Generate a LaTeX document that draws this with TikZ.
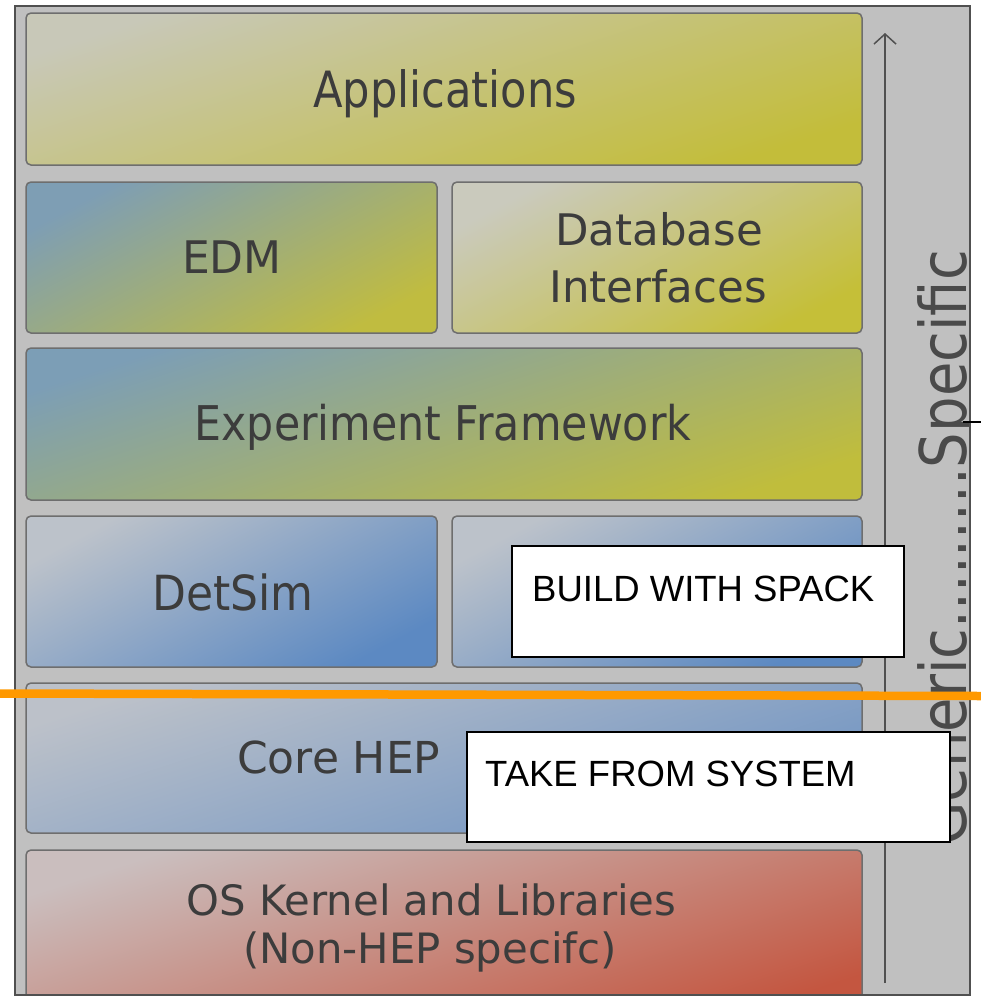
\documentclass[tikz,border=0pt]{standalone}
\usepackage{fontspec}
\usepackage{graphicx}
\usetikzlibrary{arrows.meta}
\setmainfont{Liberation Sans}
\newfontfamily\layerfont{DejaVu Sans}

% layer label: size, vertical stretch, text
\newcommand{\layerlabel}[3]{{\layerfont\fontsize{#1}{#1}\selectfont\scalebox{1}[#2]{#3}}}

\definecolor{framefill}{HTML}{C0C0C0}
\definecolor{framestroke}{HTML}{505050}
\definecolor{layerline}{HTML}{6E6E6E}
\definecolor{layertext}{HTML}{3C3C3C}
\definecolor{axistext}{HTML}{4A4A4A}
\definecolor{cutline}{HTML}{FF9900}

\definecolor{appsA}{HTML}{C8C8B8}\definecolor{appsB}{HTML}{C3BD3A}
\definecolor{edmA}{HTML}{7E9EB4}\definecolor{edmB}{HTML}{C0BC40}
\definecolor{dbA}{HTML}{CACABD}\definecolor{dbB}{HTML}{C5BF38}
\definecolor{fwA}{HTML}{7C9EB6}\definecolor{fwB}{HTML}{C0BD3C}
\definecolor{simA}{HTML}{BCC2CA}\definecolor{simB}{HTML}{5C89C2}
\definecolor{coreA}{HTML}{BCC1C9}\definecolor{coreB}{HTML}{6E93C3}
\definecolor{osA}{HTML}{CABEBE}\definecolor{osB}{HTML}{C45640}

\begin{document}
\begin{tikzpicture}[x=1pt,y=-1pt,
  layer/.style={draw=layerline, line width=1.5pt, rounded corners=5pt,
    anchor=north west, inner sep=0pt, outer sep=0pt},
  layershade/.style n args={3}{top color=#1, bottom color=#2, shading angle=#3},
  lbl/.style={inner sep=0pt, text=layertext, anchor=base},
  notebox/.style={draw=black, line width=1.5pt, fill=white, anchor=north west,
    inner sep=0pt, outer sep=0pt},
  notetext/.style={inner sep=0pt, anchor=base west, text=black,
    font=\fontsize{36.5}{40}\selectfont}]
\useasboundingbox (0,0) rectangle (981,997);

% grey panel
\fill[framefill] (15,6) rectangle (970,995);

\begin{scope}
\clip (15,6) rectangle (970,995);
% software layers, top to bottom
\node[layer, layershade={appsA}{appsB}{18}, minimum width=836pt, minimum height=152pt] (apps) at (26,13) {};
\node[layer, layershade={edmA}{edmB}{28}, minimum width=411pt, minimum height=151pt] (edm) at (26,182) {};
\node[layer, layershade={dbA}{dbB}{28}, minimum width=410pt, minimum height=151pt] (dbif) at (452,182) {};
\node[layer, layershade={fwA}{fwB}{18}, minimum width=836pt, minimum height=152pt] (expfw) at (26,348) {};
\node[layer, layershade={simA}{simB}{28}, minimum width=411pt, minimum height=151pt] (detsim) at (26,516) {};
\node[layer, layershade={simA}{simB}{28}, minimum width=410pt, minimum height=151pt] (gens) at (452,516) {};
\node[layer, layershade={coreA}{coreB}{18}, minimum width=836pt, minimum height=150pt] (core) at (26,683) {};
\node[layer, layershade={osA}{osB}{18}, minimum width=836pt, minimum height=170pt] (os) at (26,850) {};

% layer labels
\node[lbl] (appsT) at (445,107) {\layerlabel{43.2}{1.157}{Applications}};
\node[lbl] (edmT) at (232,273.5) {\layerlabel{44}{1.02}{EDM}};
\node[lbl] (dbT1) at (659,245) {\layerlabel{43.5}{1.0}{Database}};
\node[lbl] (dbT2) at (658,302) {\layerlabel{43.5}{1.0}{Interfaces}};
\node[lbl] (fwT) at (443,440) {\layerlabel{42.7}{1.12}{Experiment Framework}};
\node[lbl] (detsimT) at (233,610) {\layerlabel{44}{1.1}{DetSim}};
\node[lbl, anchor=base west] (coreT) at (237,773.5) {\layerlabel{44}{1.0}{Core HEP}};
\node[lbl] (osT1) at (431.5,915) {\layerlabel{41.8}{1.0}{OS Kernel and Libraries}};
\node[lbl] (osT2) at (430,963) {\layerlabel{41.8}{1.0}{(Non-HEP specifc)}};

% generic -> specific axis
\node[rotate=90, anchor=base east, inner sep=0pt, text=axistext] (axisT) at (966,250)
  {\layerlabel{56}{1.15}{Generic.........Specific}};
\end{scope}

\coordinate (axisFoot) at (885,983);
\coordinate (axisTip) at (885,33);
\draw[-{Straight Barb[length=10pt,width=22pt]}, line width=1.5pt, color=framestroke]
  (axisFoot) -- (axisTip);

% panel border
\draw[framestroke, line width=2pt] (15,6) rectangle (970,995);

% build / system notes
\node[notebox, minimum width=392pt, minimum height=111pt] (spackbox) at (512,546) {};
\node[notetext] (spackT) at (532,601) {BUILD WITH SPACK};
\node[notebox, minimum width=483pt, minimum height=110pt] (sysbox) at (467,732) {};
\node[notetext] (sysT) at (485,786) {TAKE FROM SYSTEM};

% dividing line between built and system packages
\coordinate (cutL) at (0,693.5);
\coordinate (cutR) at (981,696);
\draw[cutline, line width=8.5pt] (cutL) -- (cutR);

% short stub at the right edge
\coordinate (stubL) at (963,422);
\coordinate (stubR) at (981,422);
\draw[black, line width=2pt] (stubL) -- (stubR);
\end{tikzpicture}
\end{document}
